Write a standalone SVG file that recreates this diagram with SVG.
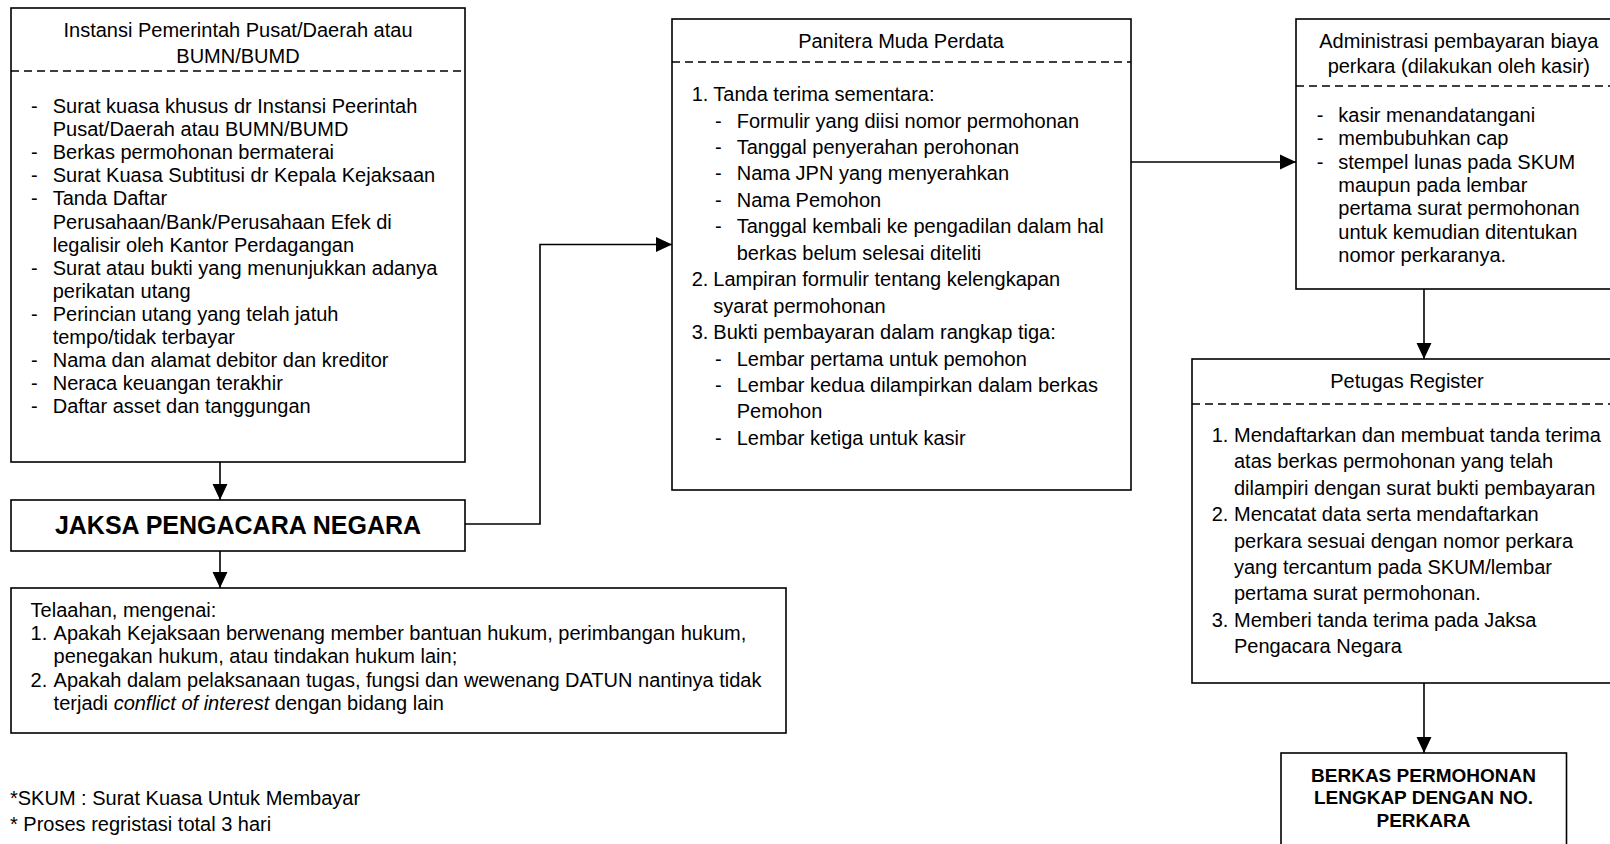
<svg xmlns="http://www.w3.org/2000/svg" width="1610" height="844" viewBox="0 0 1610 844">
<style>
  .box { fill: #fff; stroke: #000; stroke-width: 1.6; }
  .dash { stroke: #000; stroke-width: 1.3; stroke-dasharray: 8 5; fill: none; }
  .conn { stroke: #000; stroke-width: 1.6; fill: none; marker-end: url(#arrow); }
  text { font-family: "Liberation Sans", Arial, sans-serif; font-size: 20px; fill: #000; }
  .c { text-anchor: middle; }
  .b { font-weight: bold; }
</style>
<defs>
  <marker id="arrow" markerUnits="userSpaceOnUse" markerWidth="16" markerHeight="16" viewBox="0 0 15 14" refX="15" refY="7" orient="auto">
    <path d="M0,0 L15,7 L0,14 Z" fill="#000"/>
  </marker>
</defs>
<rect width="1610" height="844" fill="#fff"/>

<g id="connectors">
  <line class="conn" x1="220" y1="462" x2="220" y2="500"/>
  <line class="conn" x1="220" y1="551" x2="220" y2="588"/>
  <polyline class="conn" points="465,524 540,524 540,244.5 672,244.5"/>
  <line class="conn" x1="1131" y1="162" x2="1296" y2="162"/>
  <line class="conn" x1="1424" y1="289" x2="1424" y2="359"/>
  <line class="conn" x1="1424" y1="683" x2="1424" y2="753"/>
</g>

<g id="instansi">
  <rect class="box" x="11" y="8" width="454" height="454"/>
  <line class="dash" x1="11" y1="71" x2="465" y2="71"/>
  <text class="c" x="238" y="37">Instansi Pemerintah Pusat/Daerah atau</text>
  <text class="c" x="238" y="63">BUMN/BUMD</text>
  <text x="31" y="113.3">-</text><text x="52.7" y="113.3">Surat kuasa khusus dr Instansi Peerintah</text>
  <text x="52.7" y="136.3">Pusat/Daerah atau BUMN/BUMD</text>
  <text x="31" y="159.4">-</text><text x="52.7" y="159.4">Berkas permohonan bermaterai</text>
  <text x="31" y="182.4">-</text><text x="52.7" y="182.4">Surat Kuasa Subtitusi dr Kepala Kejaksaan</text>
  <text x="31" y="205.4">-</text><text x="52.7" y="205.4">Tanda Daftar</text>
  <text x="52.7" y="228.5">Perusahaan/Bank/Perusahaan Efek di</text>
  <text x="52.7" y="251.5">legalisir oleh Kantor Perdagangan</text>
  <text x="31" y="274.5">-</text><text x="52.7" y="274.5">Surat atau bukti yang menunjukkan adanya</text>
  <text x="52.7" y="297.5">perikatan utang</text>
  <text x="31" y="320.6">-</text><text x="52.7" y="320.6">Perincian utang yang telah jatuh</text>
  <text x="52.7" y="343.6">tempo/tidak terbayar</text>
  <text x="31" y="366.6">-</text><text x="52.7" y="366.6">Nama dan alamat debitor dan kreditor</text>
  <text x="31" y="389.7">-</text><text x="52.7" y="389.7">Neraca keuangan terakhir</text>
  <text x="31" y="412.7">-</text><text x="52.7" y="412.7">Daftar asset dan tanggungan</text>
</g>

<g id="jaksa">
  <rect class="box" x="11" y="500" width="454" height="51"/>
  <text class="c b" x="238" y="534" style="font-size:25px">JAKSA PENGACARA NEGARA</text>
</g>

<g id="telaahan">
  <rect class="box" x="11" y="588" width="775" height="145"/>
  <text x="30.6" y="616.7">Telaahan, mengenai:</text>
  <text x="30.6" y="640">1.</text><text x="53.6" y="640">Apakah Kejaksaan berwenang member bantuan hukum, perimbangan hukum,</text>
  <text x="53.6" y="663.3">penegakan hukum, atau tindakan hukum lain;</text>
  <text x="30.6" y="686.7">2.</text><text x="53.6" y="686.7">Apakah dalam pelaksanaan tugas, fungsi dan wewenang DATUN nantinya tidak</text>
  <text x="53.6" y="710">terjadi <tspan font-style="italic">conflict of interest</tspan> dengan bidang lain</text>
</g>

<g id="panitera">
  <rect class="box" x="672" y="19" width="459" height="471"/>
  <line class="dash" x1="672" y1="62" x2="1131" y2="62"/>
  <text class="c" x="901" y="48.3">Panitera Muda Perdata</text>
  <text x="691.7" y="101">1.</text><text x="713.3" y="101">Tanda terima sementara:</text>
  <text x="715" y="127.5">-</text><text x="736.7" y="127.5">Formulir yang diisi nomor permohonan</text>
  <text x="715" y="153.9">-</text><text x="736.7" y="153.9">Tanggal penyerahan perohonan</text>
  <text x="715" y="180.4">-</text><text x="736.7" y="180.4">Nama JPN yang menyerahkan</text>
  <text x="715" y="206.8">-</text><text x="736.7" y="206.8">Nama Pemohon</text>
  <text x="715" y="233.3">-</text><text x="736.7" y="233.3">Tanggal kembali ke pengadilan dalam hal</text>
  <text x="736.7" y="259.7">berkas belum selesai diteliti</text>
  <text x="691.7" y="286.2">2.</text><text x="713.3" y="286.2">Lampiran formulir tentang kelengkapan</text>
  <text x="713.3" y="312.6">syarat permohonan</text>
  <text x="691.7" y="339.1">3.</text><text x="713.3" y="339.1">Bukti pembayaran dalam rangkap tiga:</text>
  <text x="715" y="365.5">-</text><text x="736.7" y="365.5">Lembar pertama untuk pemohon</text>
  <text x="715" y="392">-</text><text x="736.7" y="392">Lembar kedua dilampirkan dalam berkas</text>
  <text x="736.7" y="418.4">Pemohon</text>
  <text x="715" y="444.9">-</text><text x="736.7" y="444.9">Lembar ketiga untuk kasir</text>
</g>

<g id="administrasi">
  <rect class="box" x="1296" y="19" width="326" height="270"/>
  <line class="dash" x1="1296" y1="86" x2="1622" y2="86"/>
  <text class="c" x="1458.8" y="48.3">Administrasi pembayaran biaya</text>
  <text class="c" x="1458.8" y="73.3">perkara (dilakukan oleh kasir)</text>
  <text x="1316.7" y="121.7">-</text><text x="1338.3" y="121.7">kasir menandatangani</text>
  <text x="1316.7" y="145.1">-</text><text x="1338.3" y="145.1">membubuhkan cap</text>
  <text x="1316.7" y="168.5">-</text><text x="1338.3" y="168.5">stempel lunas pada SKUM</text>
  <text x="1338.3" y="191.9">maupun pada lembar</text>
  <text x="1338.3" y="215.3">pertama surat permohonan</text>
  <text x="1338.3" y="238.7">untuk kemudian ditentukan</text>
  <text x="1338.3" y="262.1">nomor perkaranya.</text>
</g>

<g id="petugas">
  <rect class="box" x="1192" y="359" width="430" height="324"/>
  <line class="dash" x1="1192" y1="404" x2="1622" y2="404"/>
  <text class="c" x="1407" y="388.3">Petugas Register</text>
  <text x="1211.7" y="441.7">1.</text><text x="1234" y="441.7">Mendaftarkan dan membuat tanda terima</text>
  <text x="1234" y="468.1">atas berkas permohonan yang telah</text>
  <text x="1234" y="494.6">dilampiri dengan surat bukti pembayaran</text>
  <text x="1211.7" y="521">2.</text><text x="1234" y="521">Mencatat data serta mendaftarkan</text>
  <text x="1234" y="547.5">perkara sesuai dengan nomor perkara</text>
  <text x="1234" y="573.9">yang tercantum pada SKUM/lembar</text>
  <text x="1234" y="600.4">pertama surat permohonan.</text>
  <text x="1211.7" y="626.8">3.</text><text x="1234" y="626.8">Memberi tanda terima pada Jaksa</text>
  <text x="1234" y="653.3">Pengacara Negara</text>
</g>

<g id="berkas">
  <rect class="box" x="1281" y="753" width="285.5" height="120"/>
  <text class="c b" x="1423.5" y="781.5" style="font-size:19px">BERKAS PERMOHONAN</text>
  <text class="c b" x="1423.5" y="804" style="font-size:19px">LENGKAP DENGAN NO.</text>
  <text class="c b" x="1423.5" y="826.7" style="font-size:19px">PERKARA</text>
</g>

<g id="notes">
  <text x="10" y="805">*SKUM : Surat Kuasa Untuk Membayar</text>
  <text x="10" y="831">* Proses regristasi total 3 hari</text>
</g>
</svg>
